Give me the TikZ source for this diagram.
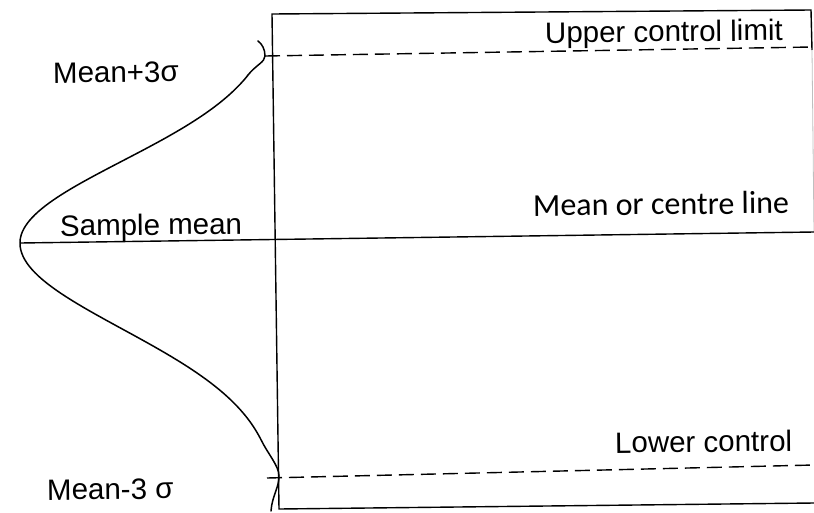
\documentclass[tikz,border=0pt]{standalone}
\usepackage{fontspec}
\setmainfont{Liberation Sans}
\newfontfamily\calfont{Carlito}
\begin{document}
\begin{tikzpicture}[x=1pt,y=-1pt,
  edge/.style={line width=1.4pt,black},
  dashline/.style={line width=1.4pt,black,dash pattern=on 15pt off 7pt},
  curveline/.style={line width=1.5pt,black,line cap=round},
  lbl/.style={anchor=base west,inner sep=0pt,font=\fontsize{29.5}{34}\selectfont,rotate=0.6},
  clbl/.style={anchor=base west,inner sep=0pt,font=\calfont\fontsize{32}{38}\selectfont,rotate=0.6}]
\useasboundingbox (0,0) rectangle (814,512);
% rectangle corners
\coordinate (TL) at (272,14);
\coordinate (TR) at (811,10);
\coordinate (TRm) at (812,50);
\coordinate (TRc) at (814,232);
\coordinate (BL) at (279,509);
\coordinate (BR) at (814,503);
% lines
\coordinate (apex) at (20,243);
\coordinate (meanR) at (814,232);
\coordinate (uclL) at (265,56);
\coordinate (uclR) at (812,47);
\coordinate (lclL) at (267,478);
\coordinate (lclR) at (814,465);
\draw[edge] (BR) -- (BL) -- (TL) -- (TR) -- (TRm);
\draw[line width=0.8pt,black!25] (TRm) -- (TRc);
\draw[edge] (apex) -- (meanR);
\draw[dashline] (uclL) -- (uclR);
\draw[dashline] (lclL) -- (lclR);
% distribution curve
\draw[curveline] (258,41) .. controls (262,44) and (265,49) .. (265,56)
  .. controls (265,62) and (256,65) .. (248,75)
  -- plot[variable=\t,domain=75:243,samples=60] ({280-260*exp(-0.5*((\t-243)/82)*((\t-243)/82))},\t)
  -- plot[variable=\t,domain=243:440,samples=60] ({280-260*exp(-0.5*((\t-243)/86)*((\t-243)/86))},\t)
  .. controls (268,454) and (279,466) .. (279,476)
  .. controls (279,488) and (272,496) .. (271,511);
% labels
\node[lbl] (ucl) at (545,43) {Upper control limit};
\node[lbl] (mp3) at (53,83) {Mean+3σ};
\node[lbl] (smean) at (60,236) {Sample mean};
\node[clbl] (centre) at (533,216) {Mean or centre line};
\node[lbl] (lcl) at (615,453) {Lower control};
\node[lbl] (mm3) at (47,500) {Mean-3 σ};
\end{tikzpicture}
\end{document}
